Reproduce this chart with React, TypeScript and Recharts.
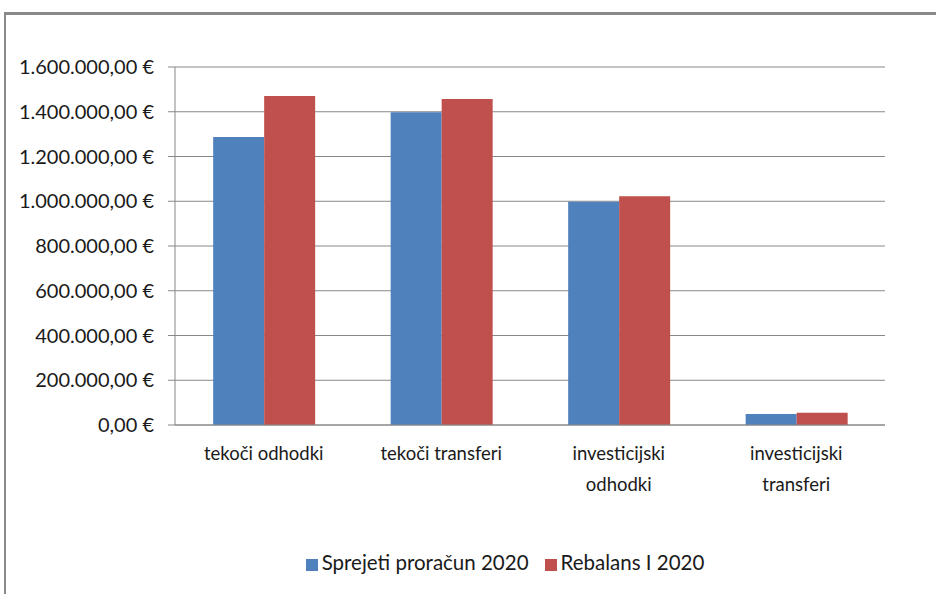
import { BarChart, Bar, XAxis, YAxis, CartesianGrid, Legend } from 'recharts'

const categories = ['tekoči odhodki', 'tekoči transferi', 'investicijski\nodhodki', 'investicijski\ntransferi']
const sprejeti = [1287000, 1398000, 998000, 49000]
const rebalans = [1470000, 1457000, 1022000, 55000]
const yTicks = [0, 200000, 400000, 600000, 800000, 1000000, 1200000, 1400000, 1600000]

const BLUE = '#4F81BD'
const RED = '#C0504D'
const GRID = '#888888'
const FONT = 'Lato, "Open Sans", sans-serif'

const data = categories.map((c, i) => ({ name: c, a: sprejeti[i], b: rebalans[i] }))

function euro(v: number) {
  const int = Math.round(v).toString().replace(/\B(?=(\d{3})+(?!\d))/g, '.')
  return `${int},00 €`
}

function CatTick(props: any) {
  const { x, y, payload } = props
  const lines = String(payload.value).split('\n')
  return (
    <g transform={`translate(${x},${y})`}>
      {lines.map((l: string, i: number) => (
        <text key={i} x={0} y={27 + i * 31} textAnchor="middle" fill="#1a1a1a" fontSize={18.5} fontFamily={FONT}>
          {l}
        </text>
      ))}
    </g>
  )
}

export default function App() {
  return (
    <div style={{ position: 'absolute', left: 0, top: 0, width: 936, height: 594, background: '#fff', overflow: 'hidden' }}>
      <div
        style={{
          position: 'absolute',
          left: 4,
          top: 12,
          width: 960,
          height: 620,
          borderTop: '3px solid #8a8a8a',
          borderLeft: '2px solid #8a8a8a',
        }}
      />
      <div style={{ position: 'absolute', left: 0, top: 0 }}>
        <BarChart
          width={936}
          height={594}
          data={data}
          margin={{ top: 67, right: 51, left: 0, bottom: 79 }}
          barGap={0}
          barCategoryGap="21.5%"
        >
          <CartesianGrid vertical={false} stroke={GRID} strokeWidth={1} />
          <XAxis
            dataKey="name"
            height={90}
            tick={<CatTick />}
            tickLine={false}
            axisLine={{ stroke: GRID }}
            interval={0}
          />
          <YAxis
            width={175}
            domain={[0, 1600000]}
            ticks={yTicks}
            tickFormatter={euro}
            tickSize={7}
            tickMargin={14}
            tickLine={{ stroke: GRID }}
            axisLine={{ stroke: GRID }}
            tick={{ fill: '#1a1a1a', fontSize: 20, fontFamily: FONT }}
            interval={0}
          />
          <Legend
            layout="horizontal"
            verticalAlign="middle"
            align="center"
            iconType="square"
            iconSize={12}
            itemSorter="dataKey"
            wrapperStyle={{ top: 550, left: 45, width: 936, fontFamily: FONT, fontSize: 20.5 }}
            formatter={(v: string) => <span style={{ color: '#1a1a1a', marginRight: 6 }}>{v}</span>}
          />
          <Bar dataKey="a" name="Sprejeti proračun 2020" fill={BLUE} isAnimationActive={false} />
          <Bar dataKey="b" name="Rebalans I 2020" fill={RED} isAnimationActive={false} />
        </BarChart>
      </div>
    </div>
  )
}
